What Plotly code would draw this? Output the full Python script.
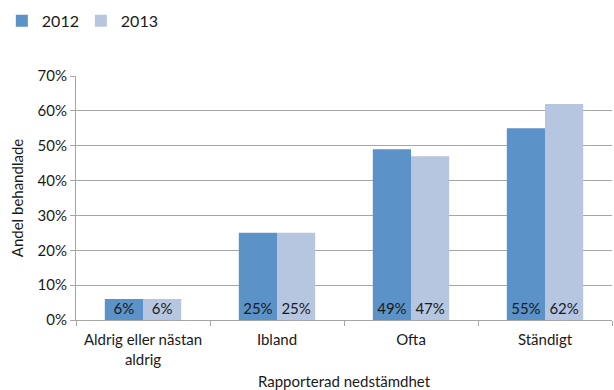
import plotly.graph_objects as go

categories = ["Aldrig eller nästan<br>aldrig", "Ibland", "Ofta", "Ständigt"]
years = ["2012", "2013"]
values_2012 = [6, 25, 49, 55]
values_2013 = [6, 25, 47, 62]
colors = ["#5b92c8", "#b7c6e0"]
y_ticks = [0, 10, 20, 30, 40, 50, 60, 70]

FONT = "Lato"
TEXT = "#1a1a1a"
SIZE = 15

fig = go.Figure()
for name, vals, col in zip(years, [values_2012, values_2013], colors):
    fig.add_trace(go.Bar(
        name=name,
        x=categories,
        y=vals,
        marker=dict(color=col, line=dict(width=0)),
        text=[f"{v}%" for v in vals],
        textposition="inside",
        insidetextanchor="start",
        textangle=0,
        textfont=dict(family=FONT, size=SIZE, color=TEXT),
        constraintext="none",
    ))

fig.update_layout(
    width=614, height=390,
    margin=dict(l=76, r=2, t=76, b=70),
    paper_bgcolor="white", plot_bgcolor="white",
    barmode="group",
    bargap=0.43, bargroupgap=0,
    font=dict(family=FONT, size=SIZE, color=TEXT),
    showlegend=True,
    legend=dict(
        orientation="h",
        xref="container", yref="container",
        x=0.003, y=0.99, xanchor="left", yanchor="top",
        font=dict(family=FONT, size=16, color=TEXT),
        itemwidth=30, entrywidth=34, traceorder="normal",
        itemclick=False,
    ),
    uniformtext=dict(mode=False),
)

fig.update_yaxes(
    range=[0, 70],
    tickvals=y_ticks,
    ticktext=[f"{t}%" for t in y_ticks],
    showgrid=True, gridcolor="#a6a6a6", gridwidth=1,
    showline=True, linecolor="#a6a6a6", linewidth=1,
    ticks="outside", ticklen=5, tickcolor="#a6a6a6",
    tickfont=dict(family=FONT, size=SIZE, color=TEXT),
    title=dict(text="Andel behandlade", font=dict(family=FONT, size=SIZE, color=TEXT), standoff=10),
    zeroline=False,
)
fig.update_xaxes(
    showline=True, linecolor="#a6a6a6", linewidth=1,
    ticks="outside", ticklen=5, tickcolor="#a6a6a6",
    tickson="boundaries",
    ticklabelstandoff=6,
    tickfont=dict(family=FONT, size=SIZE, color=TEXT),
    title=dict(text="Rapporterad nedstämdhet", font=dict(family=FONT, size=SIZE, color=TEXT), standoff=10),
)

fig.write_html("out.html")
